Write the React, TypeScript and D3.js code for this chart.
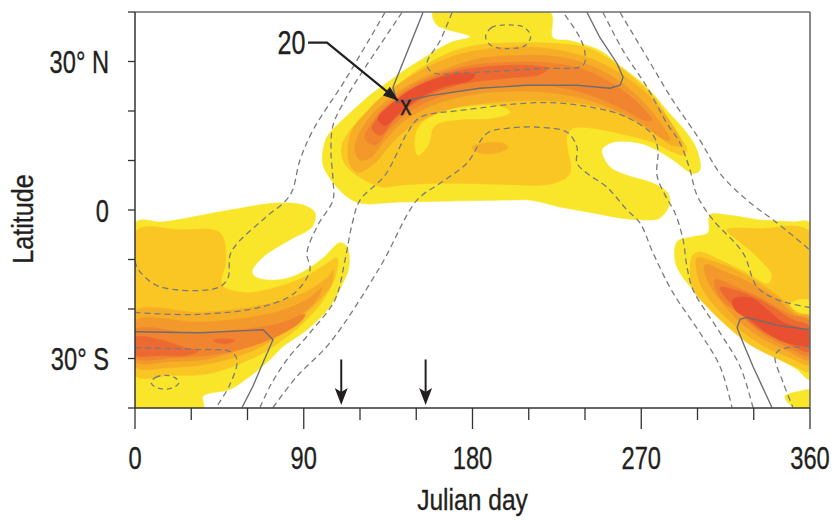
import React from "react";
import * as d3 from "d3";

type P = [number, number];

// ---------- axis / tick data ----------
const xMajorTicks = [0, 90, 180, 270, 360];
const xMinorTicks = [30, 60, 120, 150, 210, 240, 300, 330];
const yTicks = [-40, -30, -20, -10, 0, 10, 20, 30, 40];
const yLabels: [number, string][] = [[30, "30° N"], [0, "0"], [-30, "30° S"]];

const levelColors = ["#f9e62a", "#fac623", "#f6ae26", "#f3992b", "#f0842f", "#ec6a31", "#e8502f"];

// ---------- filled contour regions: [julian day, latitude] ----------
const northL1: P[] = [[158.9,40],[221.3,40],[222.9,34.8],[232,34.2],[248,32.2],[257,29.6],[273,24.8],[283.7,20.1],[294.4,15.5],[299.7,12.1],[301.3,8.1],[297.6,7.4],[287,10.1],[278.4,12.1],[269.3,13.5],[255,13.7],[249,12.1],[253.3,8.7],[262.4,7],[276.3,5.4],[283.7,3.6],[285.3,1.4],[280,-1.6],[273,-2],[258.7,-1.6],[244.3,-0.6],[226.7,0.6],[210.7,2],[198.4,2],[168,1.8],[141.3,1.6],[120,1.4],[112,3],[104,6.4],[100.3,9.1],[100.3,12.1],[102.9,15.1],[109.3,17.7],[117.3,20.5],[125.3,23.2],[133.3,25.4],[141.3,27.6],[152,30.2],[168,33.8],[178.7,35],[165.3,36.6],[161,37.4]];
const northL2: P[] = [[184,33.4],[209.1,33.8],[226.7,33.6],[241.1,32.8],[251.7,30.8],[265.6,26.8],[278.4,22.1],[286.9,16.7],[294.4,12.1],[292.3,11.1],[286.9,11.7],[276.3,13.7],[262.4,15.1],[248,16.3],[238.9,16.7],[233.6,16.5],[230.4,15.1],[230.4,13.1],[232,7.4],[225.1,5.6],[216,5],[194.7,5.2],[162.7,5.4],[141.3,5],[132.3,4.6],[122.7,6],[114.7,8.1],[110.9,10.1],[110.4,13.1],[114.7,16.1],[122.7,19.1],[130.7,22.1],[138.7,24.8],[146.7,27.2],[157.3,29.8],[170.7,32.2]];
const northL1Patch: P[] = [[150.9,11.1],[149.3,14.1],[152,17.1],[162.7,19.7],[178.7,20.9],[194.7,20.9],[200,19.7],[189.3,18.5],[173.3,18.3],[160,17.1],[156.3,13.1]];
const northL3: P[] = [[113.6,12.1],[115.7,16.1],[123.2,19.7],[133.3,23.4],[145.6,26.6],[158.9,29.4],[174.4,31.6],[194.7,32.8],[216,32.8],[236.3,31.4],[253.3,28.8],[270.9,24.2],[284.3,18.5],[291.7,13.1],[286.4,13.1],[274.7,16.1],[261.3,18.9],[244.3,21.1],[226.7,21.9],[209.1,22.1],[190.9,21.7],[173.3,20.9],[158.4,19.1],[145.6,16.5],[136,13.1],[128,9.5],[118.9,7.6],[114.7,9.1]];
const northL3Spot: P[] = [[179.7,12.7],[186.7,13.5],[196.3,13.5],[198.9,12.7],[194.7,11.7],[184,11.5]];
const northL4: P[] = [[117.3,12.5],[121.1,16.5],[129.6,20.5],[140.3,23.8],[152,26.4],[166.4,28.6],[184,30.6],[205.3,31.2],[224,31],[240,29.6],[256,26.6],[270.4,22.1],[281.1,17.1],[285.3,14.1],[281.1,14.5],[269.3,17.7],[254.4,20.5],[237.3,22.7],[218.7,23.8],[200,24],[184,23.6],[168,22.3],[154.7,20.5],[142.4,17.7],[133.3,14.1],[125.3,10.5],[120,10.1]];
const northL5: P[] = [[122.7,14.5],[128,18.5],[137.1,22.1],[147.7,25],[161.6,27.4],[178.7,29.2],[197.3,29.8],[218.7,29.8],[237.3,28.6],[253.3,25.8],[266.7,22.1],[275.7,18.1],[272,18.1],[259.7,20.5],[245.3,22.9],[226.7,24.8],[205.3,25.2],[186.7,24.6],[170.7,23.8],[157.3,22.1],[145.6,19.7],[136,16.5],[128,13.1]];
const northL6: P[] = [[126.4,16.5],[133.3,20.1],[142.4,23.1],[154.7,25.8],[170.7,28],[189.3,29],[210.7,29.2],[220.3,28.6],[216,27.4],[197.3,26.6],[178.7,25.8],[162.7,24.2],[149.3,21.7],[138.7,18.5],[130.7,15.1]];
const northL7: P[] = [[129.6,18.5],[137.1,21.5],[146.7,24.2],[160,26.4],[173.3,27.6],[181.3,27.4],[178.7,26.2],[165.3,25],[152,22.7],[141.3,19.7],[133.3,17.1]];

const southWestL1: P[] = [[0,-2.6],[14.9,-2.4],[50.7,0],[75.7,1.4],[89.6,1],[96,-0.6],[94.4,-3.4],[82.7,-6],[68.3,-9.5],[62.4,-12.5],[65.1,-13.7],[77.3,-14.1],[89.6,-12.5],[100.3,-9.7],[109.3,-6.6],[113.1,-7.4],[114.1,-11.5],[110.9,-14.7],[104,-19.5],[91.7,-24.2],[78.9,-27.6],[72,-30.2],[61.3,-33.6],[50.7,-36.2],[36.3,-37.6],[36.3,-40],[0,-40]];
const southWestL2: P[] = [[0,-4.4],[24,-4],[45.3,-4.6],[48.5,-10.1],[46.4,-15.1],[58.7,-16.7],[74.7,-15.7],[90.7,-13.5],[101.3,-11.1],[107.7,-9.7],[107.2,-13.1],[101.3,-17.7],[90.7,-22.5],[78.9,-26.2],[66.7,-29.2],[50.7,-31.8],[37.3,-33.2],[18.7,-33.4],[0,-33.4]];
const southWestL3: P[] = [[0,-20.5],[34.7,-20.7],[61.3,-19.7],[80,-18.1],[93.3,-16.1],[104,-13.1],[105.6,-12.1],[105.1,-14.7],[97.6,-18.5],[85.3,-22.7],[72,-26.6],[56,-29.4],[37.3,-31.2],[18.7,-31.8],[0,-31.6]];
const southWestL4: P[] = [[0,-22.5],[34.7,-22.7],[61.3,-21.7],[80,-20.1],[93.3,-17.7],[99.7,-15.7],[96,-18.5],[85.3,-22.1],[70.9,-25.6],[56,-28.2],[37.3,-30.2],[18.7,-30.6],[0,-30.6]];
const southWestL5: P[] = [[0,-24.2],[29.3,-24.8],[56,-24.2],[77.3,-22.9],[90.7,-21.1],[88,-22.7],[77.3,-25.2],[61.3,-27.6],[42.7,-29.2],[21.3,-29.8],[0,-29.8]];
const southWestL6: P[] = [[0,-25.8],[13.3,-26.2],[26.7,-27.8],[33.6,-28.6],[26.7,-29.4],[13.3,-29.4],[0,-29.2]];
const southWestL6Spot: P[] = [[41.6,-26.4],[48,-26],[53.3,-26.4],[48,-27]];

const southEastL1: P[] = [[306.7,-1],[315.7,-1],[333.3,-2],[350.9,-2.4],[360,-2.6],[360,-34.2],[353.1,-32.2],[344,-30.2],[333.3,-28.2],[321.1,-24.8],[308.3,-20.1],[297.6,-16.1],[290.7,-12.7],[288,-10.1],[289.1,-6.4],[297.6,-5.4],[305.6,-4.6]];
const southEastL1Tail: P[] = [[346.7,-37.6],[354.7,-36.6],[360,-36.4],[360,-40],[352,-40],[348.3,-38.9]];
const southEastL2: P[] = [[315.7,-4],[333.3,-3.8],[360,-4.4],[360,-32.6],[352,-31.6],[341.3,-29.8],[328,-27.2],[314.7,-23.1],[304,-19.1],[297.6,-16.1],[296,-12.1],[297.6,-9.1],[301.3,-8.5],[312,-10.1],[325.3,-12.5],[337.6,-14.9],[339.7,-13.1],[336,-11.1],[328,-8.1],[321.1,-6]];
const southEastL1Patch: P[] = [[349.3,-19.1],[354.7,-18.1],[360,-18.3],[360,-20.9],[353.6,-20.5]];
const southEastL3: P[] = [[299.7,-9.7],[309.3,-10.5],[322.7,-12.5],[336,-15.5],[346.7,-18.5],[353.1,-20.9],[360,-21.5],[360,-31.2],[349.3,-29.8],[336,-27.6],[322.7,-24.2],[310.9,-20.1],[302.9,-16.1],[299.7,-12.5]];
const southEastL4: P[] = [[304,-11.1],[314.7,-12.5],[328,-14.7],[341.3,-17.7],[352,-21.1],[360,-22.1],[360,-30.2],[346.7,-28.2],[333.3,-25.6],[321.1,-22.1],[312,-18.1],[305.6,-14.5]];
const southEastL5: P[] = [[309.3,-14.1],[320,-15.5],[333.3,-17.7],[349.3,-21.1],[360,-22.5],[360,-29.4],[346.7,-27.4],[333.3,-24.6],[322.7,-21.1],[312,-17.7]];
const southEastL6: P[] = [[312,-15.7],[322.7,-16.5],[336,-18.7],[350.4,-22.1],[360,-23.6],[360,-28.6],[348.3,-27],[336,-24.8],[325.3,-21.7],[317.3,-18.7]];
const southEastL7: P[] = [[318.9,-18.1],[328,-17.7],[337.1,-20.1],[345.6,-22.7],[360,-24.8],[360,-27.2],[347.7,-26.8],[337.1,-24.8],[328,-22.1],[320,-20.1]];

const regions: { level: number; pts: P[] }[] = [
  { level: 1, pts: northL1 }, { level: 1, pts: southWestL1 }, { level: 1, pts: southEastL1 }, { level: 1, pts: southEastL1Tail },
  { level: 2, pts: northL2 }, { level: 2, pts: southWestL2 }, { level: 2, pts: southEastL2 },
  { level: 1, pts: northL1Patch }, { level: 1, pts: southEastL1Patch },
  { level: 3, pts: northL3 }, { level: 3, pts: northL3Spot }, { level: 3, pts: southWestL3 }, { level: 3, pts: southEastL3 },
  { level: 4, pts: northL4 }, { level: 4, pts: southWestL4 }, { level: 4, pts: southEastL4 },
  { level: 5, pts: northL5 }, { level: 5, pts: southWestL5 }, { level: 5, pts: southEastL5 },
  { level: 6, pts: northL6 }, { level: 6, pts: southWestL6 }, { level: 6, pts: southWestL6Spot }, { level: 6, pts: southEastL6 },
  { level: 7, pts: northL7 }, { level: 7, pts: southEastL7 },
];

// ---------- overlay contour lines ----------
const dashedLines: P[][] = [
  [[133.3,39.9],[112,26.2],[94.9,16.1],[88,10.1],[82.7,3],[69.3,-1.6],[54.9,-6.6],[50.7,-9.1],[49.6,-13.7],[44.3,-15.7],[13.3,-15.5],[2.7,-12.5],[0,-10.5]],
  [[142.4,39.9],[120,27.2],[110.9,21.5],[105.6,17.1],[104.5,12.1],[105.6,6],[105.6,2],[97.6,-3],[91.7,-8.7],[93.3,-12.1],[85.3,-16.7],[68.3,-19.5],[33.1,-21.1],[0,-20.7]],
  [[66.7,-39.9],[72,-35.6],[81.1,-30.2],[93.3,-24.8],[106.7,-18.1],[112,-10.1],[115.7,-3],[120,2],[133.3,7],[145.1,15.5],[152,18.7],[173.3,20.1],[217.6,21.7],[244.3,20.7],[262.4,18.7],[276.3,15.1],[278.9,12.1],[278.4,7],[282.7,3],[288,-0.6],[292.3,-6],[294.4,-11.5],[297.6,-16.1],[312,-24.8],[322.7,-31.6],[329.6,-39.9]],
  [[73.6,-39.9],[86.4,-33.6],[104,-26.8],[130.7,-11.5],[150.4,2],[162.7,5.4],[177.1,9.5],[187.7,15.5],[198.4,16.5],[216,16.7],[230.4,15.7],[235.7,12.7],[235.7,9.5],[241.1,7.4],[251.7,4.6],[262.4,0],[269.3,-2.6],[276.3,-8.7],[286.9,-16.7],[301.3,-24.8],[312,-31.6],[318.4,-39.9]],
  [[249.6,39.9],[260.3,32.2],[273.1,24.8],[283.7,17.5],[290.7,13.5],[296,8.1],[299.7,3],[308.3,-2],[324.3,-8.7],[331.7,-15.5],[342.4,-18.1],[360,-19.7]],
  [[258.7,39.9],[273.1,30.8],[286.9,22.1],[301.3,14.1],[312,7.4],[326.4,2],[342.4,-2.6],[360,-8.1]],
  [[360,-27.6],[344,-28.2],[341.3,-29.6],[345.6,-34.8],[350.9,-39.9]],
  [[0,-27.8],[34.7,-28.2],[50.7,-28.6],[54.4,-30.2],[50.7,-35.2],[43.2,-39.9]],
  [[169.1,39.9],[162.7,34.2],[155.7,29.6],[158.4,27.8],[178.7,27.8],[217.6,28.6],[238.9,29.2],[240,31.6],[237.3,34.8],[228.3,39.9]],
];
const dashedLoops: P[][] = [
  [[187,35],[190,36.8],[199,37.4],[208,36.8],[211,35],[208,33.2],[199,32.6],[190,33.2]],
  [[8.5,-34.8],[11,-33.8],[16,-33.4],[21,-33.8],[23.5,-34.8],[21,-35.8],[16,-36.2],[11,-35.8]],
];
const solidLines: P[][] = [
  [[153.6,39.9],[137.6,24.8],[139.7,21.7],[157.3,23.1],[184,24.6],[209.1,25.2],[235.7,25.2],[253.3,24.6],[258.7,25.2],[260.3,26.8],[257.1,29.6],[248,34.8],[241.1,39.9]],
  [[0,-24.6],[34.7,-24.8],[68.3,-24.2],[73.6,-26.2],[68.3,-30.8],[62.9,-35.6],[57.1,-39.9]],
  [[360,-24.2],[344,-23.4],[326.4,-21.7],[322.7,-22.1],[321.1,-23.8],[324.3,-26.8],[329.6,-31.6],[339.7,-39.9]],
];

// ---------- annotations ----------
const annotationLabel = { text: "20", day: 76, lat: 31.6 };
const annotationLeader: P[] = [[92.3, 33.8], [102.4, 33.8], [140.3, 22.1]];
const markerPoint = { day: 144.5, lat: 21.0 };
const arrowDays = [110, 155];
const arrowLat: [number, number] = [-30.2, -39.4];

const FONT = "'Liberation Sans', Arial, Helvetica, sans-serif";
const INK = "#231f20";

export default function App() {
  const x = d3.scaleLinear().domain([0, 360]).range([135, 810]);
  const y = d3.scaleLinear().domain([-40, 40]).range([408, 12]);

  const areaGen = d3.line<P>().x(d => x(d[0])).y(d => y(d[1])).curve(d3.curveCatmullRomClosed.alpha(0.5));
  const lineGen = d3.line<P>().x(d => x(d[0])).y(d => y(d[1])).curve(d3.curveCatmullRom.alpha(0.5));
  const polyGen = d3.line<P>().x(d => x(d[0])).y(d => y(d[1]));

  const [x0, x1] = x.range();
  const [y0, y1] = [y(40), y(-40)];

  // leader arrow head
  const lp = annotationLeader.map(d => [x(d[0]), y(d[1])]);
  const a = lp[lp.length - 2], b = lp[lp.length - 1];
  const ang = Math.atan2(b[1] - a[1], b[0] - a[0]);
  const headLen = 15, headW = 5.5;
  const hx = b[0] - headLen * Math.cos(ang), hy = b[1] - headLen * Math.sin(ang);
  const head = `M${b[0]},${b[1]}L${hx + headW * Math.sin(ang)},${hy - headW * Math.cos(ang)}L${hx - headW * Math.sin(ang)},${hy + headW * Math.cos(ang)}Z`;

  const textStyle = { stroke: INK, strokeWidth: 0.35 } as React.CSSProperties;

  return (
    <svg width={834} height={531} style={{ position: "absolute", left: 0, top: 0, background: "#fff" }}>
      <defs>
        <clipPath id="plot"><rect x={x0} y={y0} width={x1 - x0} height={y1 - y0} /></clipPath>
      </defs>
      <g clipPath="url(#plot)">
        {regions.map((r, i) => (
          <path key={i} d={areaGen(r.pts) || ""} fill={levelColors[r.level - 1]} stroke={levelColors[r.level - 1]} strokeWidth={0.6} />
        ))}
        {dashedLines.map((l, i) => (
          <path key={"d" + i} d={lineGen(l) || ""} fill="none" stroke="#7b7b7b" strokeWidth={1.3} strokeDasharray="6,4" />
        ))}
        {dashedLoops.map((l, i) => (
          <path key={"c" + i} d={areaGen(l) || ""} fill="none" stroke="#7b7b7b" strokeWidth={1.3} strokeDasharray="5,4" />
        ))}
        {solidLines.map((l, i) => (
          <path key={"s" + i} d={polyGen(l) || ""} fill="none" stroke="#6e6e6e" strokeWidth={1.4} />
        ))}
      </g>

      {/* frame */}
      <line x1={x0} x2={x1} y1={y0} y2={y0} stroke="#6b6b6b" strokeWidth={1.6} />
      <line x1={x1} x2={x1} y1={y0} y2={y1} stroke="#6b6b6b" strokeWidth={1.6} />
      <line x1={x0} x2={x0} y1={y0} y2={y1} stroke="#333" strokeWidth={1.5} />
      <line x1={x0} x2={x1} y1={y1} y2={y1} stroke="#333" strokeWidth={1.5} />

      {/* y ticks */}
      {yTicks.map(t => (
        <line key={"yt" + t} x1={x0 - 7} x2={x0} y1={y(t)} y2={y(t)} stroke="#333" strokeWidth={1.3} />
      ))}
      {yLabels.map(([t, s]) => (
        <text key={"yl" + t} transform={`translate(${x0 - 26},${y(t) + 11.5}) scale(0.74,1)`} textAnchor="end"
          fontFamily={FONT} fontSize={32} fill={INK} style={textStyle}>{s}</text>
      ))}

      {/* x ticks */}
      {xMajorTicks.map(t => (
        <line key={"xm" + t} x1={x(t)} x2={x(t)} y1={y1} y2={y1 + 21} stroke="#333" strokeWidth={1.3} />
      ))}
      {xMinorTicks.map(t => (
        <line key={"xn" + t} x1={x(t)} x2={x(t)} y1={y1} y2={y1 + 12} stroke="#333" strokeWidth={1.3} />
      ))}
      {xMajorTicks.map(t => (
        <text key={"xl" + t} transform={`translate(${x(t)},${y1 + 61}) scale(0.74,1)`} textAnchor="middle"
          fontFamily={FONT} fontSize={32} fill={INK} style={textStyle}>{t}</text>
      ))}

      {/* axis titles */}
      <text transform={`translate(${(x0 + x1) / 2},${510}) scale(0.82,1)`} textAnchor="middle" fontFamily={FONT} fontSize={30} fill={INK} style={textStyle}>Julian day</text>
      <text transform={`translate(33,${(y0 + y1) / 2 + 9}) rotate(-90) scale(0.84,1)`} textAnchor="middle" fontFamily={FONT} fontSize={30} fill={INK} style={textStyle}>Latitude</text>

      {/* annotation */}
      <text transform={`translate(${x(annotationLabel.day)},${y(annotationLabel.lat)}) scale(0.74,1)`} fontFamily={FONT} fontSize={34} fill={INK} style={textStyle}>{annotationLabel.text}</text>
      <path d={`M${lp.map(p => p.join(",")).join("L")}`} fill="none" stroke={INK} strokeWidth={2.2} />
      <path d={head} fill={INK} />
      <text transform={`translate(${x(markerPoint.day)},${y(markerPoint.lat) + 9}) scale(0.8,1)`} textAnchor="middle" fontFamily={FONT} fontSize={28} fill={INK} style={textStyle}>x</text>

      {/* arrows at bottom */}
      {arrowDays.map(dd => {
        const ax = x(dd), ya = y(arrowLat[0]), yb = y(arrowLat[1]);
        return (
          <g key={"ar" + dd}>
            <line x1={ax} x2={ax} y1={ya} y2={yb - 12} stroke={INK} strokeWidth={2} />
            <path d={`M${ax},${yb}L${ax - 6.5},${yb - 17}L${ax},${yb - 13}L${ax + 6.5},${yb - 17}Z`} fill={INK} />
          </g>
        );
      })}
    </svg>
  );
}
